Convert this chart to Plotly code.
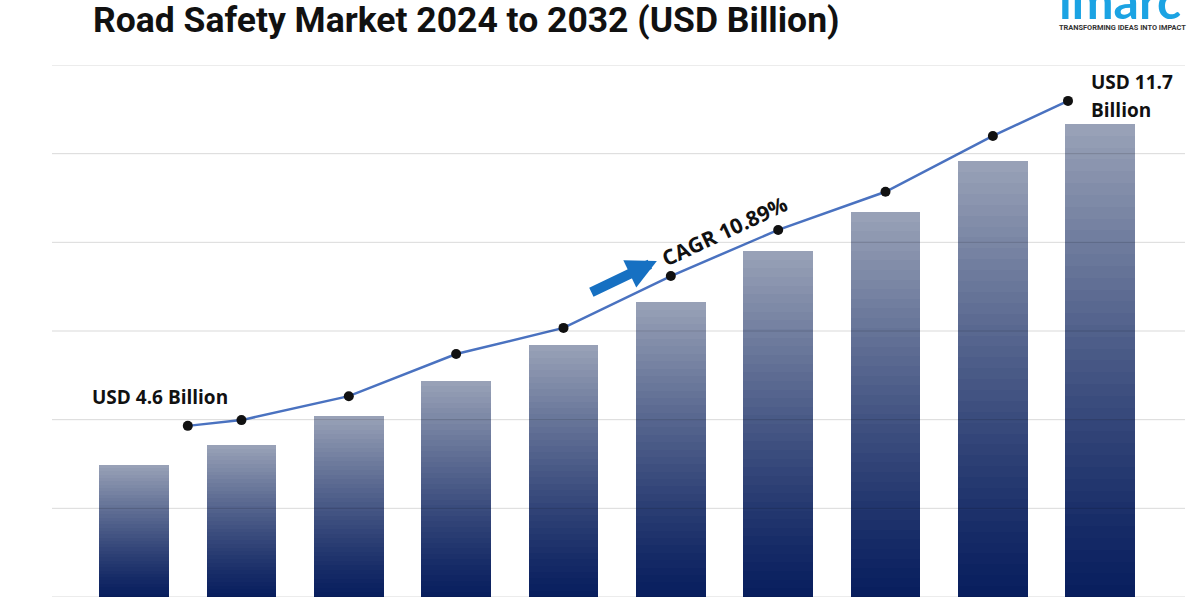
import plotly.graph_objects as go

# ---------------- data ----------------
years = ["2023", "2024", "2025", "2026", "2027", "2028", "2029", "2030", "2031", "2032"]
bar_pos = [0, 1, 2, 3, 4, 5, 6, 7, 8, 9]
bar_values = [2.98, 3.43, 4.08, 4.87, 5.68, 6.65, 7.80, 8.68, 9.83, 10.67]

line_pos = [0.5, 1.0, 2.0, 3.0, 4.0, 5.0, 6.0, 7.0, 8.0, 8.7]
line_values = [3.86, 3.99, 4.53, 5.48, 6.07, 7.24, 8.28, 9.14, 10.40, 11.19]

grid_vals = [0, 2, 4, 6, 8, 10, 12]

title_text = "Road Safety Market 2024 to 2032 (USD Billion)"
start_label = "USD 4.6 Billion"
end_label_1 = "USD 11.7"
end_label_2 = "Billion"
cagr_label = "CAGR 10.89%"

# ---------------- style ----------------
dark = (8, 30, 94)
light = (154, 163, 184)
N_SEG = 40
BAR_W = 0.65

fig = go.Figure()

# gradient bars: each bar split into equal stacked segments
for k in range(N_SEG):
    t = ((k + 0.5) / N_SEG) ** 1.2
    c = tuple(round(dark[i] + (light[i] - dark[i]) * t) for i in range(3))
    fig.add_trace(go.Bar(
        x=bar_pos,
        y=[v / N_SEG for v in bar_values],
        width=BAR_W,
        marker=dict(color="rgb(%d,%d,%d)" % c, line=dict(width=0)),
        showlegend=False,
        hoverinfo="skip",
    ))

# trend line
fig.add_trace(go.Scatter(
    x=line_pos, y=line_values, mode="lines+markers",
    line=dict(color="#4a72c0", width=2.5),
    marker=dict(color="#111111", size=10),
    showlegend=False,
    hoverinfo="skip",
))

# gridlines drawn above bars (semi-transparent)
for g in grid_vals:
    fig.add_shape(type="line", xref="paper", x0=0, x1=1, yref="y", y0=g, y1=g,
                  line=dict(color="rgba(0,0,0,0.15)", width=1), layer="above")

fig.update_layout(
    width=1200, height=600,
    margin=dict(l=52, r=15, t=65, b=3),
    paper_bgcolor="white", plot_bgcolor="white",
    barmode="stack", bargap=0,
    title=dict(
        text="<b>" + title_text + "</b>",
        x=93 / 1200, xanchor="left", xref="container",
        y=1 - 20 / 600, yanchor="middle", yref="container",
        font=dict(family="Roboto", size=35.5, color="#111111"),
    ),
    xaxis=dict(range=[-0.765, 9.79], showgrid=False, zeroline=False,
               showticklabels=False, tickvals=bar_pos, ticktext=years, visible=False),
    yaxis=dict(range=[0, 12], showgrid=False, zeroline=False,
               showticklabels=False, visible=False),
)

ann_font = dict(family="Open Sans", size=19, color="#111111")
fig.add_annotation(x=0.24, y=4.51, text="<b>" + start_label + "</b>", showarrow=False,
                   font=ann_font, xanchor="center", yanchor="middle")
fig.add_annotation(x=8.90, y=11.62, text="<b>" + end_label_1 + "</b>", showarrow=False,
                   font=ann_font, xanchor="left", yanchor="middle")
fig.add_annotation(x=8.90, y=10.99, text="<b>" + end_label_2 + "</b>", showarrow=False,
                   font=ann_font, xanchor="left", yanchor="middle")
fig.add_annotation(x=5.50, y=8.25, text="<b>" + cagr_label + "</b>", showarrow=False,
                   textangle=-25, font=dict(family="Open Sans", size=21, color="#111111"),
                   xanchor="center", yanchor="middle")
# blue arrow
fig.add_annotation(x=4.87, y=7.58, ax=-67, ay=32, text="", showarrow=True,
                   arrowhead=2, arrowsize=0.6, arrowwidth=10, arrowcolor="#1670c2")

# logo
fig.add_annotation(xref="paper", yref="paper", x=(1120 - 52) / 1133,
                   y=1 + (65 - 0) / 532, text="<b>imarc</b>", showarrow=False,
                   font=dict(family="Lato", size=50, color="#1ba3e3"),
                   xanchor="center", yanchor="middle")
fig.add_annotation(xref="paper", yref="paper", x=(1122 - 52) / 1133,
                   y=1 + (65 - 28) / 532, text="<b>TRANSFORMING IDEAS INTO IMPACT</b>",
                   showarrow=False, font=dict(family="Roboto", size=7.4, color="#333333"),
                   xanchor="center", yanchor="middle")

fig.write_html("out.html")
